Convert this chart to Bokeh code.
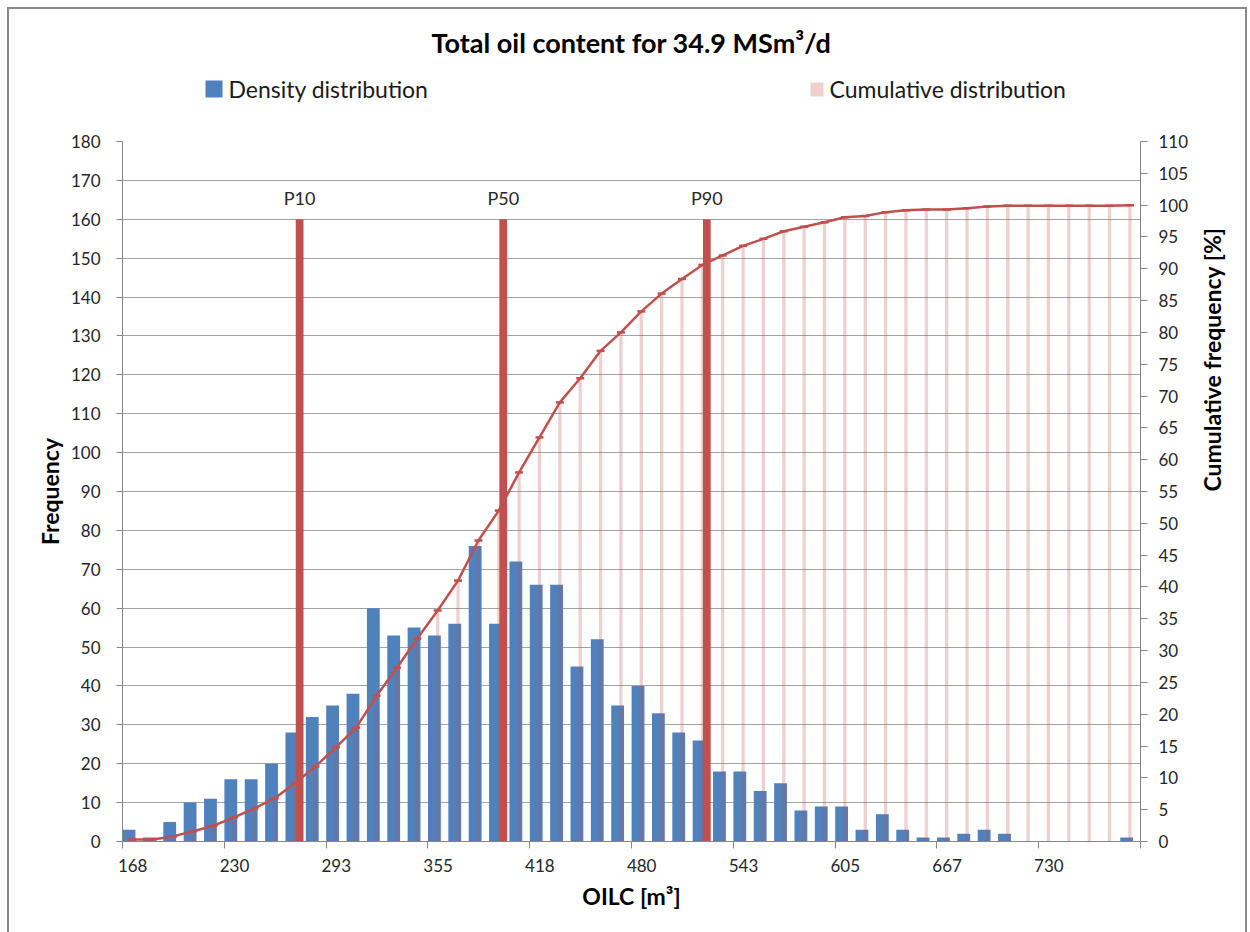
import math
from bokeh.plotting import figure
from bokeh.layouts import column
from bokeh.models import (Range1d, LinearAxis, FixedTicker, Label, ColumnDataSource)
from bokeh.core.properties import value
from bokeh.embed import file_html
from bokeh.resources import INLINE

# ---------------- data ----------------
title_text = "Total oil content for 34.9 MSm\u00b3/d"
legend_labels = ["Density distribution", "Cumulative distribution"]
tick_labels = ["168", "230", "293", "355", "418", "480", "543", "605", "667", "730"]
frequency = [3, 1, 5, 10, 11, 16, 16, 20, 28, 32,
             35, 38, 60, 53, 55, 53, 56, 76, 56, 72,
             66, 66, 45, 52, 35, 40, 33, 28, 26, 18,
             18, 13, 15, 8, 9, 9, 3, 7, 3, 1,
             1, 2, 3, 2, 0, 0, 0, 0, 0, 1]
cumulative_pct = [0.3, 0.3, 0.8, 1.6, 2.5, 3.8, 5.2, 6.8, 9.2, 11.8,
                  14.8, 17.9, 22.9, 27.3, 31.9, 36.3, 41.0, 47.3, 52.0, 58.0,
                  63.5, 69.0, 72.8, 77.1, 80.0, 83.3, 86.1, 88.4, 90.6, 92.1,
                  93.6, 94.7, 95.9, 96.6, 97.3, 98.1, 98.3, 98.9, 99.2, 99.3,
                  99.3, 99.5, 99.8, 99.9, 99.9, 99.9, 99.9, 99.9, 99.9, 100.0]
p_names = ["P10", "P50", "P90"]
p_bins = [8, 18, 28]
p_height = [160, 160, 160]

FONT = "Lato"
BLUE = "#4F81BD"
RED = "#C0504D"
PINK_ALPHA = 0.27
AXIS = "#868686"
GRID = "#a3a3a3"
TXT = "#262626"

n = len(frequency)
bins = list(range(n))

src = ColumnDataSource(dict(
    bar_x=[k + 0.32 for k in bins],
    cum_x=[k + 0.48 for k in bins],
    freq=frequency,
    cum=cumulative_pct,
))
psrc = ColumnDataSource(dict(
    x=[k + 0.7 for k in p_bins],
    top=p_height,
    name=p_names,
))

W = 1236          # inner width of the chart area
HEAD_H = 120      # title + legend strip (pixel coordinates, y downwards)
MAIN_H = 803      # plot area incl. axes
y_max, cum_max = 180, 110
ML, MR, MT, MB = 113, 105, 12, 91
FW = W - ML - MR  # frame width; the header's frame is aligned to it by the column

# ================= header: title + legend =================
head = figure(width=W, height=HEAD_H, output_backend="svg", toolbar_location=None,
              x_range=Range1d(0, FW), y_range=Range1d(HEAD_H, 0),
              x_axis_type=None, y_axis_type=None,
              min_border_left=0, min_border_right=0, min_border_top=0, min_border_bottom=0)
head.outline_line_color = None
head.background_fill_color = "white"
head.border_fill_color = "white"
head.grid.visible = False

head.add_layout(Label(x=FW / 2, y=33, text=title_text,
                      text_font=FONT, text_font_size="27px", text_font_style="bold",
                      text_align="center", text_baseline="middle", text_color="black"))

# legend swatches and labels
head.quad(left=[83], right=[100], top=[71], bottom=[88],
          fill_color=BLUE, line_color=None)
head.quad(left=[688], right=[701], top=[73], bottom=[87],
          fill_color=RED, fill_alpha=PINK_ALPHA, line_color=None)
head.text(x=[106, 707], y=[79, 79], text=legend_labels,
          text_font=value(FONT), text_font_size="23px", text_align="left",
          text_baseline="middle", text_color="#1a1a1a")

# ================= main chart =================
p = figure(width=W, height=MAIN_H, output_backend="svg", toolbar_location=None,
           x_range=Range1d(0, n), y_range=Range1d(0, y_max),
           min_border_left=ML, min_border_right=MR,
           min_border_top=MT, min_border_bottom=MB)
p.outline_line_color = None
p.background_fill_color = "white"
p.border_fill_color = "white"
p.extra_y_ranges = {"cum": Range1d(0, cum_max)}

p.vbar(x="bar_x", top="freq", width=0.63, bottom=0, source=src,
       fill_color=BLUE, line_color=None)
p.vbar(x="cum_x", top="cum", width=0.16, bottom=0, source=src,
       y_range_name="cum", fill_color=RED, fill_alpha=PINK_ALPHA, line_color=None)
p.vbar(x="x", top="top", width=0.38, bottom=0, source=psrc,
       fill_color=RED, line_color=None)
p.text(x="x", y="top", text="name", source=psrc, y_offset=-21,
       text_font=value(FONT), text_font_size="18px", text_align="center",
       text_baseline="middle", text_color=TXT)
p.line(x="cum_x", y="cum", source=src, y_range_name="cum",
       line_color=RED, line_width=2.5)
p.scatter(x="cum_x", y="cum", source=src, y_range_name="cum", marker="dash",
          size=8, line_color=RED, line_width=2.5)

ytick = FixedTicker(ticks=list(range(0, y_max + 1, 10)))
yax = p.yaxis[0]
yax.ticker = ytick
p.ygrid[0].ticker = ytick
p.ygrid.grid_line_color = GRID
p.ygrid.grid_line_width = 1
p.xgrid.visible = False

xax = p.xaxis[0]
xax.ticker = FixedTicker(ticks=[k + 0.5 for k in range(0, n, 5)],
                         minor_ticks=list(range(0, n + 1, 5)))
xax.major_label_overrides = {k + 0.5: lab for k, lab in zip(range(0, n, 5), tick_labels)}
xax.major_tick_out = 7
xax.major_tick_in = 0
xax.minor_tick_line_color = AXIS
xax.minor_tick_out = 7
xax.minor_tick_in = 0
xax.major_label_standoff = 10
xax.axis_label = "OILC [m\u00b3]"
xax.axis_label_standoff = 7

yax.major_tick_out = 6
yax.major_tick_in = 0
yax.minor_tick_line_color = None
yax.major_label_standoff = 16
yax.axis_label = "Frequency"
yax.axis_label_standoff = 4

ax2 = LinearAxis(y_range_name="cum", ticker=FixedTicker(ticks=list(range(0, cum_max + 1, 5))))
ax2.major_tick_out = 7
ax2.major_tick_in = 0
ax2.minor_tick_line_color = None
ax2.major_label_standoff = 11
ax2.axis_label = "Cumulative frequency [%]"
ax2.axis_label_standoff = 21
try:
    ax2.axis_label_orientation = math.pi / 2
except Exception:
    pass
p.add_layout(ax2, "right")

for ax in (xax, yax, ax2):
    ax.axis_line_color = AXIS
    ax.axis_line_width = 1
    ax.major_tick_line_color = AXIS if ax is not xax else None
    ax.major_label_text_font = FONT
    ax.major_label_text_font_size = "17px"
    ax.major_label_text_color = TXT
    ax.axis_label_text_font = FONT
    ax.axis_label_text_font_size = "23px"
    ax.axis_label_text_font_style = "bold"
    ax.axis_label_text_color = "black"

page = column(head, p, spacing=0)
page.styles = {"border": "2px solid #8a8a8a", "border-bottom": "none",
               "margin-left": "7px", "margin-top": "7px", "background": "white"}

open("out.html", "w").write(file_html(page, INLINE))
